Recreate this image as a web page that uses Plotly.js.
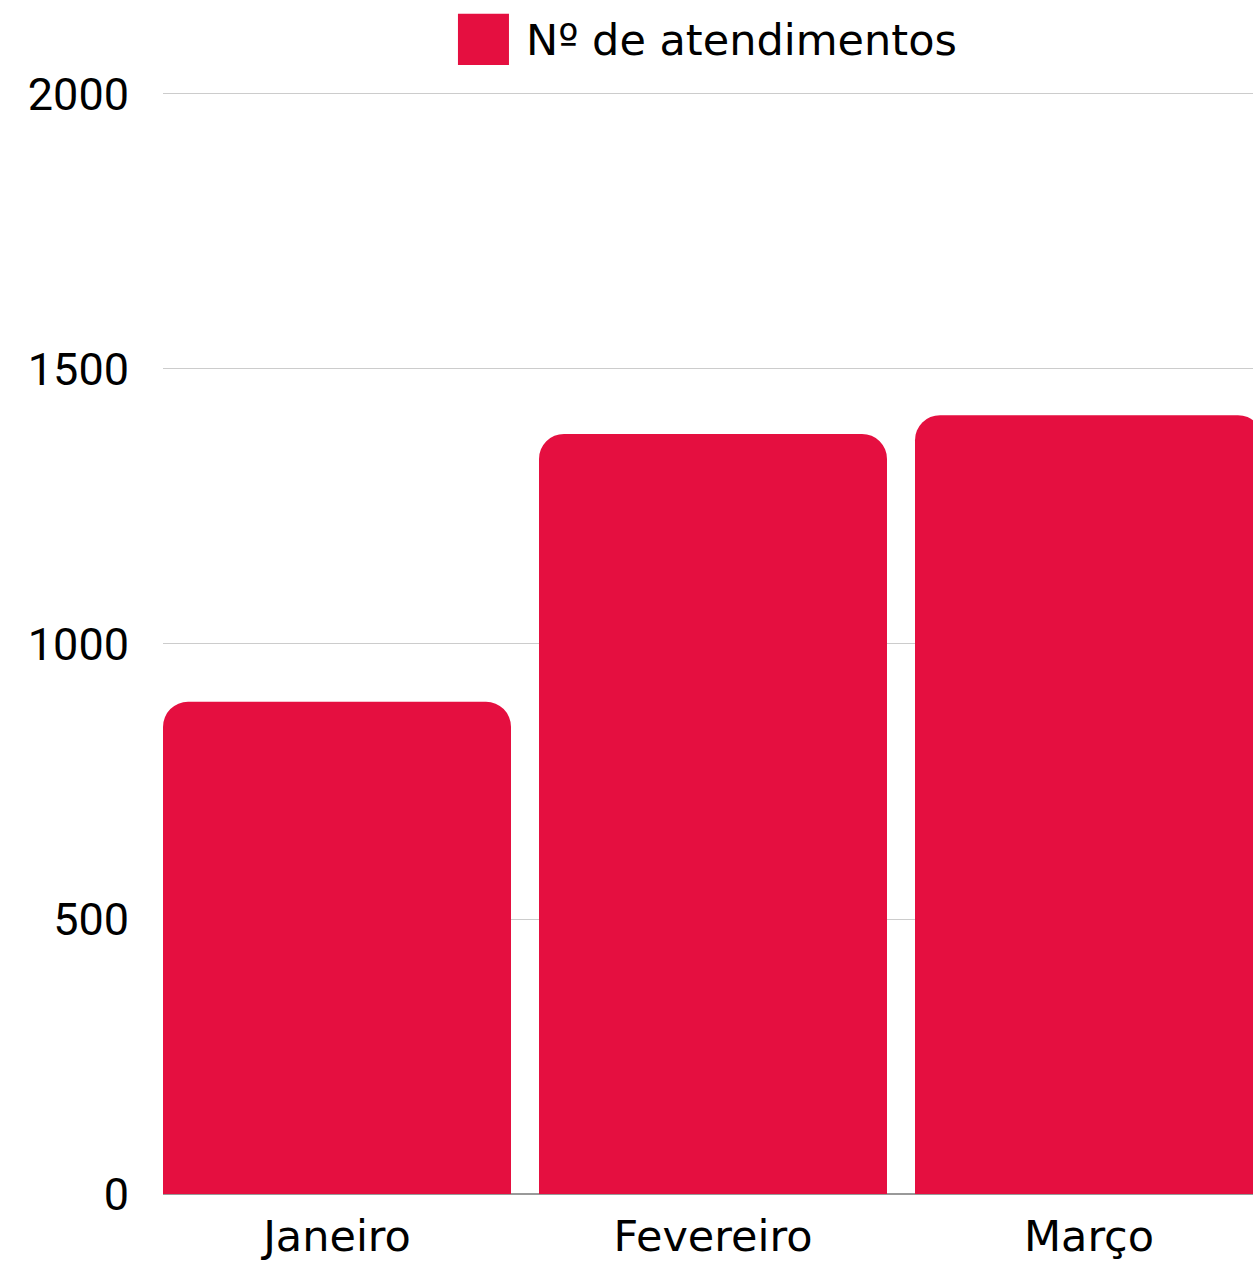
<!DOCTYPE html>
<html><head><meta charset="utf-8">
<script src="https://cdn.plot.ly/plotly-3.0.1.min.js"></script>
<style>html,body{margin:0;padding:0;background:#fff}</style>
</head><body>
<div id="chart" style="width:1253px;height:1265px"></div>
<script>
const months = ["Janeiro", "Fevereiro", "Março"];
const atendimentos = [895, 1382, 1416];
const seriesName = "Nº de atendimentos";
const yTicks = [0, 500, 1000, 1500, 2000];
const barColor = "#E50F40";

const trace = {
  type: "bar", x: months, y: atendimentos, name: seriesName,
  marker: {color: barColor, cornerradius: 25},
  hoverinfo: "none", showlegend: false
};
const layout = {
  width: 1253, height: 1265,
  margin: {l: 163, r: 0, t: 92, b: 71, pad: 0},
  paper_bgcolor: "#fff", plot_bgcolor: "#fff",
  bargap: 0.0745,
  xaxis: {range: [-0.4628, 2.4362], showgrid: false, zeroline: false, showline: false,
    ticks: "", ticklabelstandoff: 13,
    tickfont: {family: "DejaVu Sans, sans-serif", size: 43, color: "#000"}},
  yaxis: {range: [0, 2003.6], tickvals: yTicks, ticktext: yTicks.map(String),
    showgrid: true, gridcolor: "#cccccc", gridwidth: 1,
    zeroline: true, zerolinecolor: "#999999", zerolinewidth: 2,
    showline: false, ticks: "", ticklabelstandoff: 33,
    tickfont: {family: "Roboto, sans-serif", size: 45, color: "#000"}},
  shapes: [{type: "rect", xref: "paper", yref: "paper",
    x0: 0.2706, x1: 0.3174, y0: 1.0245, y1: 1.0709,
    fillcolor: barColor, line: {width: 0}}],
  annotations: [{xref: "paper", yref: "paper", x: 0.3312, y: 1.0473,
    xanchor: "left", yanchor: "middle", showarrow: false, text: seriesName,
    font: {family: "DejaVu Sans, sans-serif", size: 43, color: "#000"}}]
};
Plotly.newPlot("chart", [trace], layout, {displayModeBar: false, staticPlot: true});
</script>
</body></html>
